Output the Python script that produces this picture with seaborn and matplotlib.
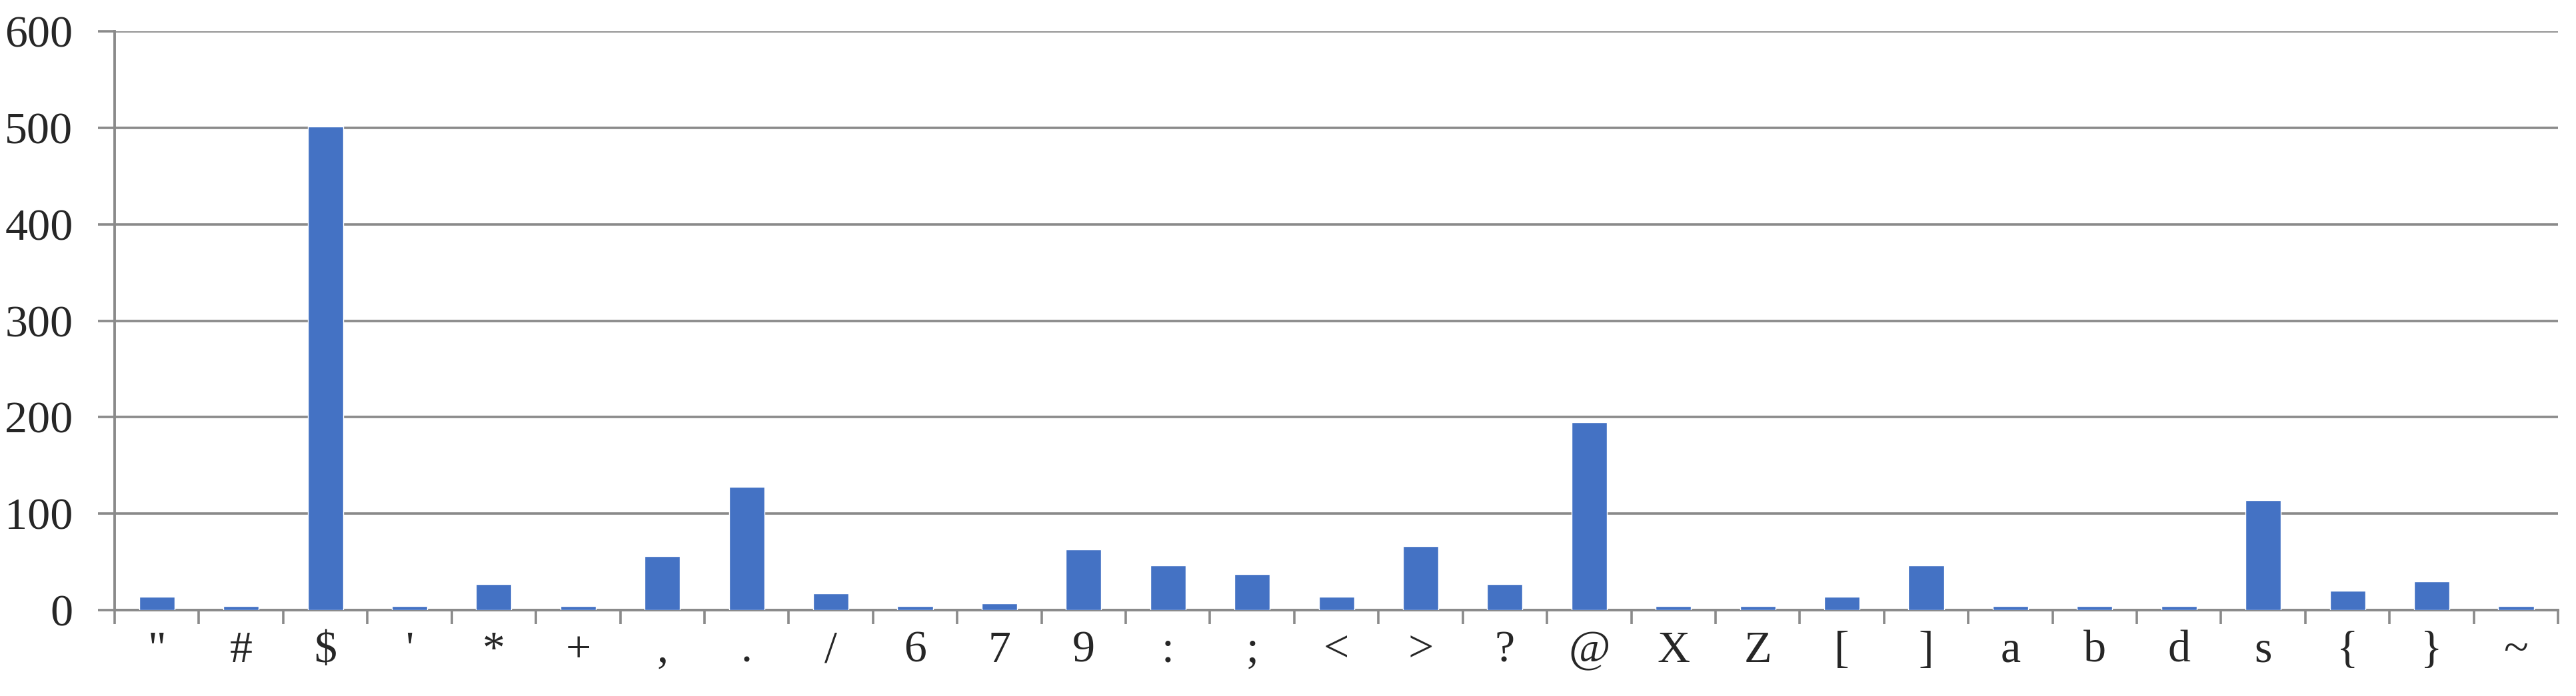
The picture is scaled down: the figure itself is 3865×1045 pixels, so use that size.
import pandas as pd
import matplotlib
matplotlib.use('Agg')
import matplotlib.pyplot as plt
import seaborn as sns

# caracteres e contagens
simbolos = ['"', '#', '$', "'", '*', '+', ',', '.', '/', '6', '7', '9', ':', ';', '<',
            '>', '?', '@', 'X', 'Z', '[', ']', 'a', 'b', 'd', 's', '{', '}', '~']
contagens = [14, 4, 501, 4, 27, 4, 56, 128, 17, 4, 7, 63, 46, 37, 14,
             66, 27, 195, 4, 4, 14, 46, 4, 4, 4, 114, 20, 30, 4]
yticks = [0, 100, 200, 300, 400, 500, 600]

df = pd.DataFrame({'simbolo': simbolos, 'contagem': contagens})

sns.set_style('white')
plt.rcParams['font.family'] = ['Liberation Serif', 'DejaVu Serif']

cinza = '#8a8a8a'
fig = plt.figure(figsize=(38.66, 10.45), dpi=100)
ax = fig.add_axes([0.0445, 0.1234, 0.9483, 0.8316])

sns.barplot(data=df, x='simbolo', y='contagem', color='#4472C4', saturation=1,
            width=0.42, ax=ax, zorder=3)

n = len(simbolos)
ax.set_xlim(-0.5, n - 0.5)
ax.set_ylim(0, 600)
ax.set_yticks(yticks)
ax.yaxis.grid(True, color=cinza, linewidth=2.6, zorder=0)
ax.set_axisbelow(True)

# ticks entre as categorias, rotulos no centro das barras
ax.set_xticks([i - 0.5 for i in range(n + 1)], minor=False)
ax.set_xticklabels([])
ax.set_xticks(range(n), minor=True)
ax.set_xticklabels(simbolos, minor=True)
ax.tick_params(axis='x', which='major', direction='out', length=15, width=2.6,
               color=cinza, bottom=True)
ax.tick_params(axis='x', which='minor', length=0, pad=22, labelsize=49)
ax.tick_params(axis='y', direction='out', length=18, width=2.6, color=cinza,
               left=True, pad=27, labelsize=49)

for lado in ['top', 'right']:
    ax.spines[lado].set_visible(False)
for lado in ['left', 'bottom']:
    ax.spines[lado].set_color(cinza)
    ax.spines[lado].set_linewidth(2.8)

ax.set_xlabel('')
ax.set_ylabel('')

fig.savefig('out.png', dpi=100, facecolor='white')
